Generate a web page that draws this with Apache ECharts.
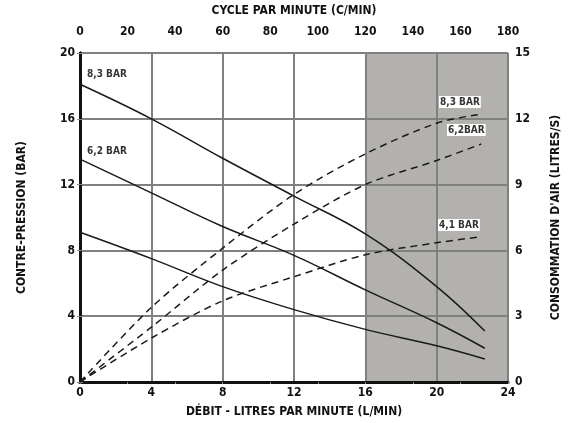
<!DOCTYPE html>
<html><head><meta charset="utf-8">
<script src="https://cdn.jsdelivr.net/npm/echarts@6/dist/echarts.min.js"></script>
<style>html,body{margin:0;padding:0;background:#fff}#c{width:571px;height:423px}</style>
</head><body><div id="c"></div>
<script>
// Flow (L/min) sample points
const flowP83 = [0, 4, 8, 12, 16, 20, 22.7];
const press83 = [18.1, 16.0, 13.6, 11.3, 9.0, 5.8, 3.1];
const flowP62 = [0, 4, 8, 12, 16, 20, 22.7];
const press62 = [13.55, 11.5, 9.45, 7.7, 5.6, 3.6, 2.05];
const flowP41 = [0, 4, 8, 12, 16, 20, 22.7];
const press41 = [9.1, 7.5, 5.8, 4.4, 3.2, 2.2, 1.4];
// Air consumption (L/s) on right axis
const flowA83 = [0, 4, 8, 12, 16, 20, 22.4];
const air83 = [0, 3.4, 6.1, 8.55, 10.4, 11.8, 12.2];
const flowA62 = [0, 4, 8, 12, 16, 20, 22.5];
const air62 = [0, 2.5, 5.1, 7.2, 9.0, 10.1, 10.85];
const flowA41 = [0, 4, 8, 12, 16, 20, 22.3];
const air41 = [0, 2.0, 3.7, 4.8, 5.8, 6.35, 6.6];
const shadeFrom = 16, shadeTo = 24;

const F = '"DejaVu Sans Condensed","Liberation Sans Narrow","Liberation Sans",sans-serif';
const T = {fontFamily: F, fontWeight: 'bold', fontSize: 12, color: '#111'};
const zip = (xs, ys) => xs.map((x, i) => [x, ys[i]]);
const solid = (name, xs, ys) => ({
  name, type: 'line', xAxisIndex: 0, yAxisIndex: 0, data: zip(xs, ys), smooth: 0.4,
  symbol: 'none', lineStyle: {color: '#1a1a1a', width: 1.5}, z: 5
});
const dashed = (name, xs, ys) => ({
  name, type: 'line', xAxisIndex: 0, yAxisIndex: 1, data: zip(xs, ys), smooth: 0.3,
  symbol: 'none', lineStyle: {color: '#1a1a1a', width: 1.5, type: [7, 5]}, z: 5
});
const lbl = (text, x, y, box) => ({
  type: 'text', left: x, top: y, z: 50,
  style: {text, font: 'bold 10px ' + F, fill: '#333',
    backgroundColor: box ? '#fff' : 'transparent', padding: box ? [1, 1] : 0}
});
const nameStyle = Object.assign({}, T, {fontSize: 12});

const chart = echarts.init(document.getElementById('c'));
chart.setOption({
  animation: false,
  grid: {left: 80, right: 63, top: 48, bottom: 41},
  xAxis: [{
    type: 'value', min: 0, max: 24, interval: 4, position: 'bottom',
    name: 'DÉBIT - LITRES PAR MINUTE (L/MIN)', nameLocation: 'middle', nameGap: 24,
    nameTextStyle: nameStyle,
    axisLine: {lineStyle: {color: '#111', width: 2}},
    axisTick: {show: false},
    axisLabel: Object.assign({margin: 5}, T),
    splitLine: {show: true, lineStyle: {color: '#808080', width: 2}}
  }, {
    type: 'value', min: 0, max: 180, interval: 20, position: 'top',
    name: 'CYCLE PAR MINUTE (C/MIN)', nameLocation: 'middle', nameGap: 36,
    nameTextStyle: nameStyle,
    axisLine: {lineStyle: {color: '#111', width: 3}},
    axisTick: {show: true, inside: true, length: 2, lineStyle: {color: '#888'}},
    axisLabel: Object.assign({margin: 15}, T),
    splitLine: {show: false}
  }],
  yAxis: [{
    type: 'value', min: 0, max: 20, interval: 4, position: 'left',
    name: 'CONTRE-PRESSION (BAR)', nameLocation: 'middle', nameGap: 52, nameRotate: 90,
    nameTextStyle: nameStyle,
    axisLine: {show: true, lineStyle: {color: '#111', width: 3}},
    axisTick: {show: true, length: 3, lineStyle: {color: '#888'}},
    axisLabel: Object.assign({margin: 5}, T),
    splitLine: {show: true, lineStyle: {color: '#808080', width: 2}}
  }, {
    type: 'value', min: 0, max: 15, interval: 3, position: 'right',
    name: "CONSOMMATION D'AIR (LITRES/S)", nameLocation: 'middle', nameGap: 42, nameRotate: 90,
    nameTextStyle: nameStyle,
    axisLine: {show: true, lineStyle: {color: '#111', width: 3}},
    axisTick: {show: true, length: 3, lineStyle: {color: '#888'}},
    axisLabel: Object.assign({margin: 7}, T),
    splitLine: {show: false}
  }],
  series: [
    {type: 'line', data: [], xAxisIndex: 0, yAxisIndex: 0, z: -1, silent: true,
     markArea: {silent: true, z: -1, itemStyle: {color: '#b3b1ae'},
       data: [[{xAxis: shadeFrom}, {xAxis: shadeTo}]]}},
    solid('8,3 BAR', flowP83, press83),
    solid('6,2 BAR', flowP62, press62),
    solid('4,1 BAR', flowP41, press41),
    dashed('8,3 BAR air', flowA83, air83),
    dashed('6,2 BAR air', flowA62, air62),
    dashed('4,1 BAR air', flowA41, air41)
  ],
  graphic: [
    lbl('8,3 BAR', 87, 69, false),
    lbl('6,2 BAR', 87, 146, false),
    lbl('8,3 BAR', 439, 96, true),
    lbl('6,2BAR', 447, 124, true),
    lbl('4,1 BAR', 438, 219, true)
  ]
});
</script></body></html>
